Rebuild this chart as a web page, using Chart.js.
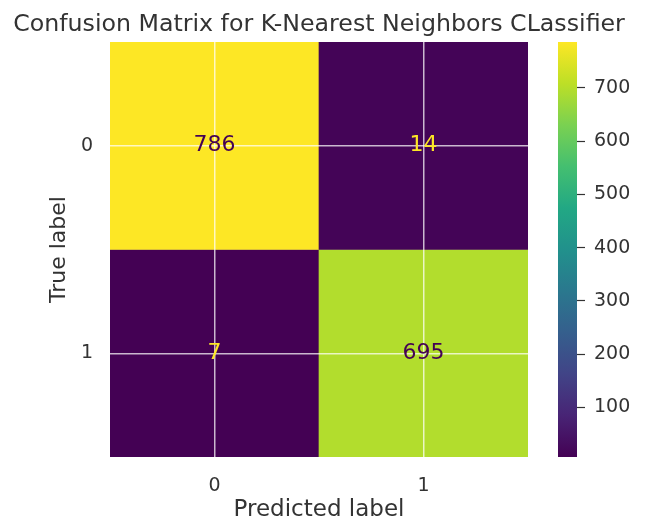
<!DOCTYPE html>
<html>
<head>
<meta charset="utf-8">
<script src="https://cdn.jsdelivr.net/npm/chart.js@4.4.1/dist/chart.umd.min.js"></script>
<style>
  html, body { margin: 0; padding: 0; background: #ffffff; }
  #wrap { position: relative; width: 649px; height: 529px; overflow: hidden; }
  #matrix { position: absolute; left: 0; top: 0; }
  #colorbar { position: absolute; left: 548px; top: 0; }
</style>
</head>
<body>
<div id="wrap">
  <canvas id="matrix" width="649" height="529"></canvas>
  <canvas id="colorbar" width="101" height="529"></canvas>
</div>
<script>
// Confusion matrix counts: rows = true label, columns = predicted label
const trueLabels = ['0', '1'];
const predictedLabels = ['0', '1'];
const rowTrue0 = [786, 14];
const rowTrue1 = [7, 695];
const colorbarTicks = [100, 200, 300, 400, 500, 600, 700];
const chartTitle = 'Confusion Matrix for K-Nearest Neighbors CLassifier';
const xTitle = 'Predicted label';
const yTitle = 'True label';

const matrix = [rowTrue0, rowTrue1];
const allValues = matrix.flat();
const vMin = Math.min(...allValues);
const vMax = Math.max(...allValues);

// Viridis colormap anchors, evenly spaced from 0 to 1
const VIRIDIS = ['#440154', '#482475', '#414487', '#355f8d', '#2a788e', '#21918c',
                 '#22a884', '#44bf70', '#7ad151', '#bddf26', '#fde725'];
function hexToRgb(h) {
  return [parseInt(h.slice(1, 3), 16), parseInt(h.slice(3, 5), 16), parseInt(h.slice(5, 7), 16)];
}
function viridis(t) {
  t = Math.max(0, Math.min(1, t));
  const pos = t * (VIRIDIS.length - 1);
  const i = Math.min(Math.floor(pos), VIRIDIS.length - 2);
  const f = pos - i;
  const a = hexToRgb(VIRIDIS[i]), b = hexToRgb(VIRIDIS[i + 1]);
  const c = a.map((v, k) => Math.round(v + (b[k] - v) * f));
  return `rgb(${c[0]},${c[1]},${c[2]})`;
}
const norm = v => (v - vMin) / (vMax - vMin);

const FONT = '"DejaVu Sans", sans-serif';
const TEXT = '#333333';
const GRID = 'rgba(255,255,255,0.72)';

// Count labels inside each cell (above the grid lines) and the title centred over the plot area
const annotations = {
  id: 'annotations',
  afterDraw(chart) {
    const { ctx, chartArea } = chart;
    const threshold = (vMin + vMax) / 2;
    ctx.save();
    ctx.font = `22px ${FONT}`;
    ctx.textAlign = 'center';
    ctx.textBaseline = 'middle';
    chart.data.datasets.forEach((ds, i) => {
      chart.getDatasetMeta(i).data.forEach((bar, j) => {
        const v = matrix[i][j];
        const c = bar.getCenterPoint();
        ctx.fillStyle = v < threshold ? VIRIDIS[VIRIDIS.length - 1] : VIRIDIS[0];
        ctx.fillText(String(v), c.x, c.y);
      });
    });
    ctx.font = `23.7px ${FONT}`;
    ctx.fillStyle = TEXT;
    ctx.textBaseline = 'alphabetic';
    ctx.fillText(chartTitle, (chartArea.left + chartArea.right) / 2, 31);
    ctx.restore();
  }
};

// Heatmap: each true-label row is a dataset of floating bars spanning one row band
new Chart(document.getElementById('matrix'), {
  type: 'bar',
  data: {
    labels: predictedLabels,
    datasets: matrix.map((row, i) => ({
      label: trueLabels[i],
      data: row.map(() => [i - 0.5, i + 0.5]),
      backgroundColor: row.map(v => viridis(norm(v))),
      borderWidth: 0,
      barPercentage: 1,
      categoryPercentage: 1,
      grouped: false
    }))
  },
  options: {
    responsive: false,
    animation: false,
    devicePixelRatio: 1,
    layout: { padding: { left: 0, right: 121, top: 42, bottom: 0 } },
    plugins: {
      legend: { display: false },
      tooltip: { enabled: false },
      title: { display: false }
    },
    scales: {
      x: {
        type: 'category',
        offset: true,
        border: { display: false },
        grid: { offset: false, color: GRID, lineWidth: 1.5, drawTicks: false, z: 1 },
        ticks: { color: TEXT, font: { family: FONT, size: 19 }, padding: 18 },
        title: {
          display: true, text: xTitle, color: TEXT,
          font: { family: FONT, size: 23 }, padding: { top: 0, bottom: 5 }
        },
        afterFit: s => { s.height = 72; }
      },
      y: {
        type: 'linear',
        min: -0.5,
        max: 1.5,
        reverse: true,
        border: { display: false },
        grid: { color: GRID, lineWidth: 1.5, drawTicks: false, z: 1 },
        afterBuildTicks: s => { s.ticks = trueLabels.map((_, i) => ({ value: i })); },
        ticks: {
          color: TEXT, font: { family: FONT, size: 19 }, padding: 17,
          callback: (v, i) => trueLabels[i]
        },
        title: {
          display: true, text: yTitle, color: TEXT,
          font: { family: FONT, size: 22 }, padding: { top: 46, bottom: 0 }
        },
        afterFit: s => { s.width = 110; }
      }
    }
  },
  plugins: [annotations]
});

// Colorbar: one floating bar from the minimum to the maximum count, filled with viridis
new Chart(document.getElementById('colorbar'), {
  type: 'bar',
  data: {
    labels: [''],
    datasets: [{
      data: [[vMin, vMax]],
      borderWidth: 0,
      barPercentage: 1,
      categoryPercentage: 1,
      backgroundColor: ctx => {
        const area = ctx.chart.chartArea;
        if (!area) return VIRIDIS[0];
        const g = ctx.chart.ctx.createLinearGradient(0, area.bottom, 0, area.top);
        VIRIDIS.forEach((c, k) => g.addColorStop(k / (VIRIDIS.length - 1), c));
        return g;
      }
    }]
  },
  options: {
    responsive: false,
    animation: false,
    devicePixelRatio: 1,
    layout: { padding: { left: 10, right: 0, top: 42, bottom: 72 } },
    plugins: { legend: { display: false }, tooltip: { enabled: false }, title: { display: false } },
    scales: {
      x: { display: false },
      y: {
        type: 'linear',
        position: 'right',
        min: vMin,
        max: vMax,
        border: { display: false },
        grid: { drawOnChartArea: false, drawTicks: true, tickLength: 8, tickColor: TEXT, tickWidth: 1.2 },
        afterBuildTicks: s => { s.ticks = colorbarTicks.map(v => ({ value: v })); },
        ticks: { color: TEXT, font: { family: FONT, size: 19 }, padding: 9 },
        afterFit: s => { s.width = 72; }
      }
    }
  }
});
</script>
</body>
</html>
